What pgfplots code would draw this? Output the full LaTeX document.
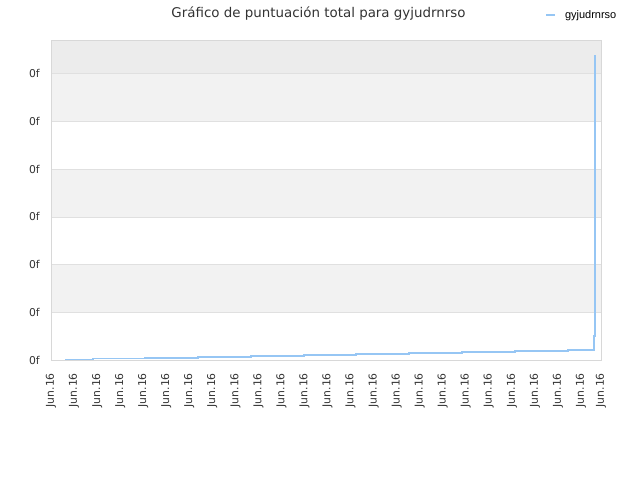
\documentclass[border=0pt]{standalone}
\usepackage{pgfplots}
\pgfplotsset{compat=1.18}
\usepackage{fontspec}
\setmainfont{DejaVu Sans}
\newfontfamily\legfont{Liberation Sans}
\definecolor{linec}{RGB}{150,198,244}
\definecolor{bandA}{RGB}{242,242,242}
\definecolor{bandB}{RGB}{236,236,236}
\definecolor{gridc}{RGB}{224,224,224}
\definecolor{framec}{RGB}{216,216,216}
\definecolor{txt}{RGB}{51,51,51}
\begin{document}
\begin{tikzpicture}
\begin{axis}[
  set layers,
  at={(51pt,120pt)}, anchor=south west,
  scale only axis, width=550pt, height=320pt,
  xmin=0, xmax=23.87, ymin=0, ymax=6.71,
  axis line style={framec},
  tick style={draw=none},
  ytick={0,1,2,3,4,5,6},
  yticklabels={0f,0f,0f,0f,0f,0f,0f},
  xtick={0,1,2,3,4,5,6,7,8,9,10,11,12,13,14,15,16,17,18,19,20,21,22,23,23.87},
  xticklabel={Jun.16},
  x tick label style={rotate=90, anchor=east, font=\fontsize{10.8}{12}\selectfont, text=txt, inner sep=0pt},
  y tick label style={font=\fontsize{10.8}{12}\selectfont, text=txt, inner sep=0pt},
  xticklabel shift=13pt,
  yticklabel shift=11pt,
  ymajorgrids, grid style={gridc, line width=0.8pt},
  legend style={at={(0.898,1.078)}, anchor=west, draw=none, fill=none, font=\legfont\fontsize{11}{12}\selectfont, inner sep=0pt, legend cell align=left},
  legend image code/.code={\draw[#1] (0pt,0pt) -- (9pt,0pt); \path[draw=none,fill=none] (0pt,0pt) -- (17pt,0pt);},
]
\addplot[forget plot, draw=none, fill=bandB, on layer=axis background] coordinates {(0,6) (23.87,6) (23.87,6.71) (0,6.71)};
\addplot[forget plot, draw=none, fill=bandA, on layer=axis background] coordinates {(0,5) (23.87,5) (23.87,6) (0,6)};
\addplot[forget plot, draw=none, fill=bandA, on layer=axis background] coordinates {(0,3) (23.87,3) (23.87,4) (0,4)};
\addplot[forget plot, draw=none, fill=bandA, on layer=axis background] coordinates {(0,1) (23.87,1) (23.87,2) (0,2)};
\addplot[const plot, linec, line width=1.8pt, mark=none] coordinates {
(0.62,0.01) (1.81,0.03) (4.09,0.05) (6.38,0.07) (8.68,0.09) (10.99,0.11)
(13.25,0.13) (15.55,0.15) (17.85,0.17) (20.15,0.19) (22.45,0.21)
(23.57,0.50) (23.61,6.39)
};
\addlegendentry{gyjudrnrso}
\end{axis}
\node[text=txt,font=\fontsize{13.4}{15}\selectfont] at (318.5pt,466pt) {Gráfico de puntuación total para gyjudrnrso};
\pgfresetboundingbox
\path (0pt,0pt) rectangle (640pt,480pt);
\end{tikzpicture}
\end{document}
